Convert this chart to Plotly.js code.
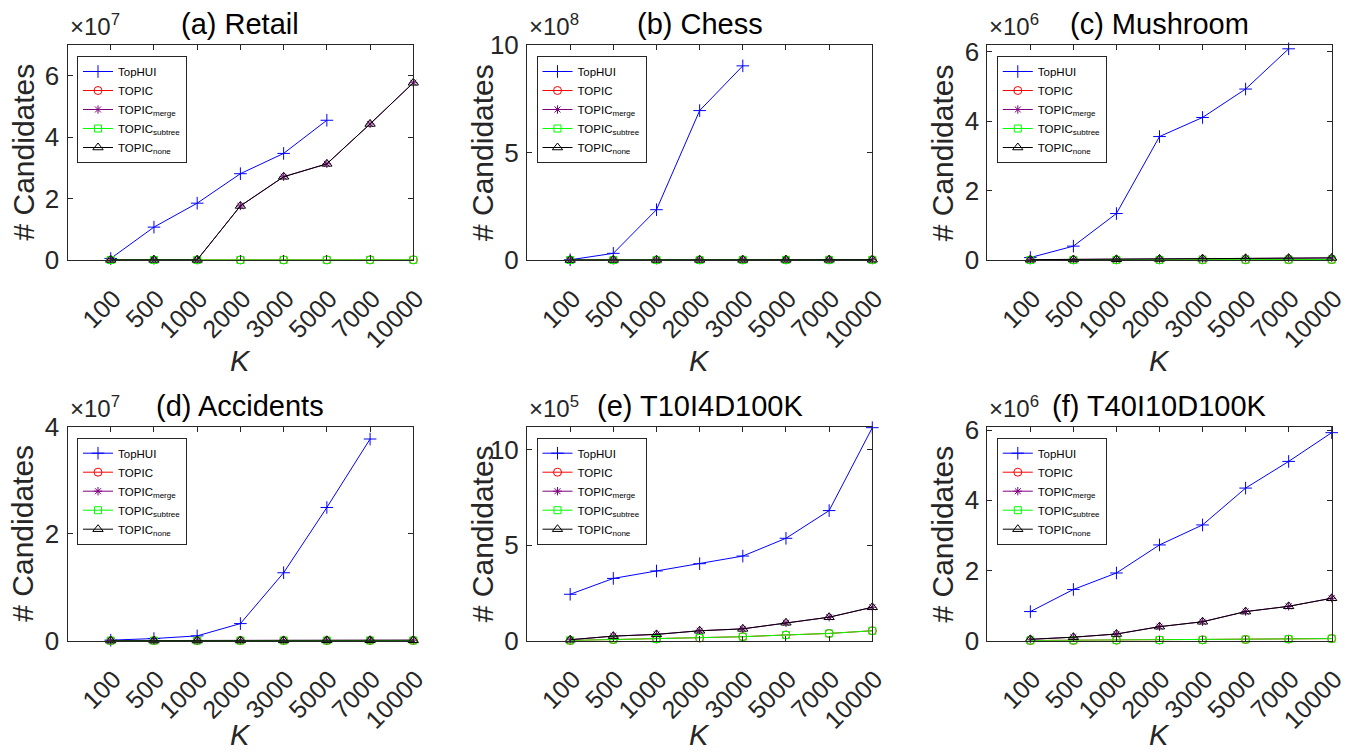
<!DOCTYPE html>
<html><head><meta charset="utf-8">
<script src="https://cdn.plot.ly/plotly-3.0.1.min.js"></script>
<style>html,body{margin:0;padding:0;background:#fff;} #chart{width:1358px;height:753px;pointer-events:none;} #chart *{pointer-events:none !important;cursor:default !important;}</style>
</head><body><div id="chart"></div>
<script>
// ---------------- data ----------------
const categories = ['100','500','1000','2000','3000','5000','7000','10000'];
const seriesNames = ['TopHUI','TOPIC','TOPIC<sub>merge</sub>','TOPIC<sub>subtree</sub>','TOPIC<sub>none</sub>'];

// (a) Retail
const retail_TopHUI  = [0.05e7, 1.07e7, 1.85e7, 2.81e7, 3.47e7, 4.55e7, null, null];
const retail_TOPIC   = [2e4, 2e4, 3e4, 3e4, 4e4, 4e4, 5e4, 5e4];
const retail_merge   = [4e4, 4e4, 5e4, 1.76e7, 2.71e7, 3.13e7, 4.43e7, 5.77e7];
const retail_subtree = [2e4, 2e4, 3e4, 3e4, 4e4, 4e4, 5e4, 5e4];
const retail_none    = [4e4, 4e4, 5e4, 1.76e7, 2.71e7, 3.13e7, 4.43e7, 5.77e7];

// (b) Chess
const chess_TopHUI  = [0.01e8, 0.31e8, 2.34e8, 6.95e8, 9.03e8, null, null, null];
const chess_TOPIC   = [1e5, 2e5, 3e5, 4e5, 5e5, 6e5, 7e5, 8e5];
const chess_merge   = [2e5, 3e5, 4e5, 6e5, 8e5, 1e6, 1.2e6, 1.4e6];
const chess_subtree = [1e5, 2e5, 3e5, 4e5, 5e5, 6e5, 7e5, 8e5];
const chess_none    = [2e5, 3e5, 4e5, 6e5, 8e5, 1e6, 1.2e6, 1.4e6];

// (c) Mushroom
const mush_TopHUI  = [0.07e6, 0.40e6, 1.34e6, 3.56e6, 4.11e6, 4.93e6, 6.09e6, null];
const mush_TOPIC   = [0.002e6, 0.003e6, 0.004e6, 0.005e6, 0.006e6, 0.008e6, 0.010e6, 0.012e6];
const mush_merge   = [0.010e6, 0.015e6, 0.020e6, 0.030e6, 0.040e6, 0.050e6, 0.055e6, 0.060e6];
const mush_subtree = [0.002e6, 0.003e6, 0.004e6, 0.005e6, 0.006e6, 0.008e6, 0.010e6, 0.012e6];
const mush_none    = [0.010e6, 0.015e6, 0.020e6, 0.030e6, 0.040e6, 0.050e6, 0.055e6, 0.060e6];

// (d) Accidents
const acc_TopHUI  = [0.01e7, 0.04e7, 0.09e7, 0.32e7, 1.27e7, 2.49e7, 3.77e7, null];
const acc_TOPIC   = [1e4, 1e4, 2e4, 2e4, 3e4, 3e4, 4e4, 4e4];
const acc_merge   = [2e4, 3e4, 4e4, 5e4, 6e4, 7e4, 8e4, 9e4];
const acc_subtree = [1e4, 1e4, 2e4, 2e4, 3e4, 3e4, 4e4, 4e4];
const acc_none    = [2e4, 3e4, 4e4, 5e4, 6e4, 7e4, 8e4, 9e4];

// (e) T10I4D100K
const t10_TopHUI  = [2.43e5, 3.26e5, 3.65e5, 4.03e5, 4.43e5, 5.36e5, 6.81e5, 11.15e5];
const t10_TOPIC   = [0.01e5, 0.06e5, 0.09e5, 0.14e5, 0.21e5, 0.30e5, 0.38e5, 0.52e5];
const t10_merge   = [0.05e5, 0.24e5, 0.33e5, 0.52e5, 0.62e5, 0.94e5, 1.23e5, 1.75e5];
const t10_subtree = [0.01e5, 0.06e5, 0.09e5, 0.14e5, 0.21e5, 0.30e5, 0.38e5, 0.52e5];
const t10_none    = [0.05e5, 0.24e5, 0.33e5, 0.52e5, 0.62e5, 0.94e5, 1.23e5, 1.75e5];

// (f) T40I10D100K
const t40_TopHUI  = [0.83e6, 1.46e6, 1.93e6, 2.73e6, 3.30e6, 4.35e6, 5.11e6, 5.93e6];
const t40_TOPIC   = [0.005e6, 0.010e6, 0.015e6, 0.020e6, 0.025e6, 0.035e6, 0.045e6, 0.060e6];
const t40_merge   = [0.04e6, 0.10e6, 0.19e6, 0.40e6, 0.54e6, 0.83e6, 0.98e6, 1.21e6];
const t40_subtree = [0.005e6, 0.010e6, 0.015e6, 0.020e6, 0.025e6, 0.035e6, 0.045e6, 0.060e6];
const t40_none    = [0.04e6, 0.10e6, 0.19e6, 0.40e6, 0.54e6, 0.83e6, 0.98e6, 1.21e6];

const panelTitles = ['(a) Retail','(b) Chess','(c) Mushroom','(d) Accidents','(e) T10I4D100K','(f) T40I10D100K'];
const panelSeries = [
  [retail_TopHUI, retail_TOPIC, retail_merge, retail_subtree, retail_none],
  [chess_TopHUI, chess_TOPIC, chess_merge, chess_subtree, chess_none],
  [mush_TopHUI, mush_TOPIC, mush_merge, mush_subtree, mush_none],
  [acc_TopHUI, acc_TOPIC, acc_merge, acc_subtree, acc_none],
  [t10_TopHUI, t10_TOPIC, t10_merge, t10_subtree, t10_none],
  [t40_TopHUI, t40_TOPIC, t40_merge, t40_subtree, t40_none]
];
const panelExponent = [7, 8, 6, 7, 5, 6];
const panelYMax = [7, 10, 6.2, 4, 11.2, 6.1];      // in units of 10^exp
const panelYTicks = [[0,2,4,6],[0,5,10],[0,2,4,6],[0,2,4],[0,5,10],[0,2,4,6]];

// ---------------- styling / layout ----------------
const W = 1358, H = 753;
const FONT = 'Liberation Sans, Arial, Helvetica, sans-serif';
const colL = [67.5, 527.0, 987.3], colR = [413.3, 872.3, 1331.7];
const rowT = [45, 426.7], rowB = [260, 640.7];
const styles = [
  {color:'#0000FF', symbol:'cross-thin-open', size:9},
  {color:'#FF0000', symbol:'circle-open', size:8},
  {color:'#800080', symbol:'asterisk-open', size:7},
  {color:'#00FF00', symbol:'square-open', size:7},
  {color:'#000000', symbol:'triangle-up-open', size:9}
];
const legendIds = ['legend','legend2','legend3','legend4','legend5','legend6'];

const traces = [];
const layout = {
  width: W, height: H, margin:{l:0,r:0,t:0,b:0},
  paper_bgcolor:'#fff', plot_bgcolor:'#fff',
  font:{family:FONT, color:'#262626'},
  showlegend:true, annotations:[]
};

for (let p = 0; p < 6; p++) {
  const col = p % 3, row = Math.floor(p / 3);
  const sfx = p === 0 ? '' : String(p + 1);
  const L = colL[col], R = colR[col], T = rowT[row], B = rowB[row];
  const scale = Math.pow(10, panelExponent[p]);
  const legName = legendIds[p];
  for (let s = 0; s < 5; s++) {
    const st = styles[s];
    traces.push({
      x: categories, y: panelSeries[p][s], type:'scatter', mode:'lines+markers',
      name: seriesNames[s], xaxis:'x'+sfx, yaxis:'y'+sfx, legend: legName,
      cliponaxis:false, connectgaps:false,
      line:{color:st.color, width:1},
      marker:{symbol:st.symbol, size:st.size, color:st.color, line:{color:st.color, width:1}}
    });
  }
  layout['xaxis'+sfx] = {
    domain:[L/W, R/W], anchor:'y'+sfx, type:'category', range:[-1,7],
    tickangle:-45, ticks:'inside', ticklen:5, tickcolor:'#262626', tickwidth:1,
    showline:true, linecolor:'#262626', linewidth:1, mirror:'ticks',
    showgrid:false, zeroline:false, ticklabelstandoff:13, ticklabelshift:3,
    tickfont:{family:FONT, size:25, color:'#262626'}, fixedrange:true
  };
  layout['yaxis'+sfx] = {
    domain:[1-B/H, 1-T/H], anchor:'x'+sfx, range:[0, panelYMax[p]*scale],
    tickmode:'array', tickvals: panelYTicks[p].map(v=>v*scale), ticktext: panelYTicks[p].map(String),
    ticks:'inside', ticklen:5, tickcolor:'#262626', tickwidth:1,
    showline:true, linecolor:'#262626', linewidth:1, mirror:'ticks',
    showgrid:false, zeroline:false, ticklabelstandoff:2,
    tickfont:{family:FONT, size:26, color:'#262626'}, fixedrange:true
  };
  layout[legName] = {
    x:(L+9.5)/W, y:1-(T+11)/H, xanchor:'left', yanchor:'top',
    bgcolor:'#fff', bordercolor:'#262626', borderwidth:1,
    font:{family:FONT, size:11.5, color:'#000'}, tracegroupgap:0, itemwidth:30
  };
  // panel title
  layout.annotations.push({text:panelTitles[p], xref:'paper', yref:'paper',
    x:(L+R)/2/W, y:1-(T-21)/H, xanchor:'center', yanchor:'middle', showarrow:false,
    font:{family:FONT, size:29, color:'#000'}});
  // exponent label
  layout.annotations.push({text:'×10<sup>'+panelExponent[p]+'</sup>', xref:'paper', yref:'paper',
    x:(L)/W, y:1-(T-3)/H, xanchor:'left', yanchor:'bottom', showarrow:false,
    font:{family:FONT, size:24, color:'#262626'}});
  // y title
  layout.annotations.push({text:'# Candidates', xref:'paper', yref:'paper', textangle:-90,
    x:(L-44.5)/W, y:1-((T+B)/2)/H, xanchor:'center', yanchor:'middle', showarrow:false,
    font:{family:FONT, size:30, color:'#262626'}});
  // x title
  const kBox = row === 0 ? {y:1-(B+101)/H, yanchor:'middle'} : {y:0, yanchor:'bottom'};
  layout.annotations.push({text:'<i>K</i>', xref:'paper', yref:'paper',
    x:(L+R)/2/W, y:kBox.y, xanchor:'center', yanchor:kBox.yanchor, showarrow:false,
    font:{family:FONT, size:29, color:'#262626'}});
}

Plotly.newPlot('chart', traces, layout, {displayModeBar:false, staticPlot:true});
</script></body></html>
